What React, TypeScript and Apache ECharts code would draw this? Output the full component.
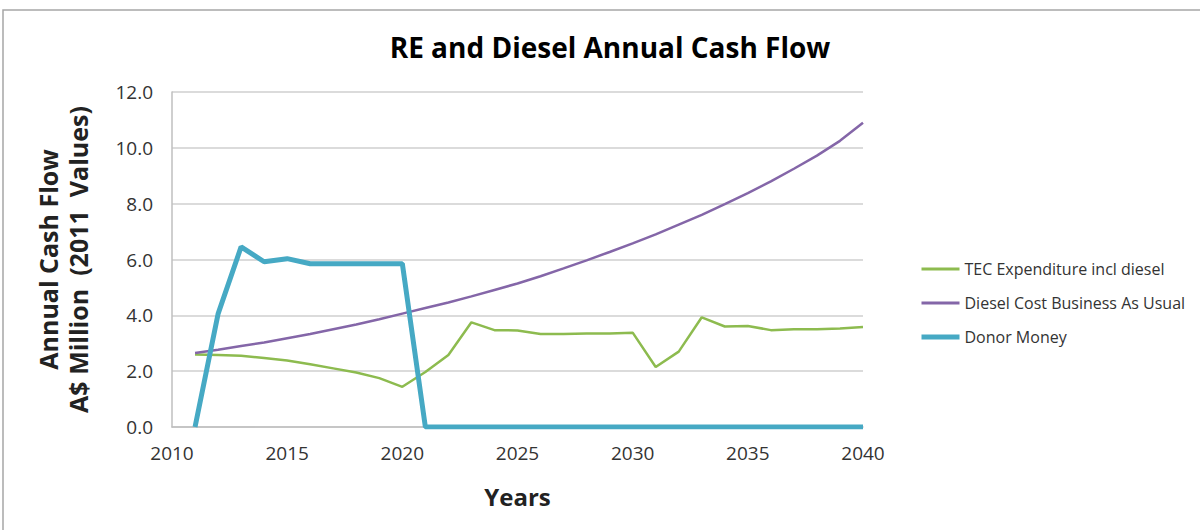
import React, { useEffect, useRef } from "react";
import * as echarts from "echarts";

const years = [2011,2012,2013,2014,2015,2016,2017,2018,2019,2020,2021,2022,2023,2024,2025,2026,2027,2028,2029,2030,2031,2032,2033,2034,2035,2036,2037,2038,2039,2040];
const tecExpenditure = [2.6,2.58,2.55,2.47,2.38,2.25,2.1,1.95,1.75,1.44,1.97,2.58,3.75,3.47,3.46,3.33,3.33,3.35,3.35,3.38,2.15,2.7,3.93,3.6,3.62,3.47,3.5,3.5,3.53,3.58];
const dieselBAU = [2.65,2.77,2.9,3.03,3.18,3.33,3.5,3.67,3.86,4.06,4.26,4.46,4.68,4.91,5.14,5.4,5.68,5.97,6.27,6.58,6.9,7.25,7.6,7.98,8.38,8.8,9.25,9.72,10.25,10.9];
const donorMoney = [0,4.05,6.45,5.92,6.03,5.85,5.85,5.85,5.85,5.85,0,0,0,0,0,0,0,0,0,0,0,0,0,0,0,0,0,0,0,0];
const seriesNames = ["TEC Expenditure incl diesel", "Diesel Cost Business As Usual", "Donor Money"];
const seriesColors = ["#8dbb4f", "#8466a8", "#46a9c4"];
const seriesWidths = [2.5, 2.5, 5];

const pair = (vals: number[]) => years.map((y, i) => [y, vals[i]]);

export default function App() {
  const ref = useRef<HTMLDivElement>(null);
  useEffect(() => {
    const chart = echarts.init(ref.current!, null, { renderer: "svg" });
    const font = "'Open Sans', 'Liberation Sans', sans-serif";
    const values = [tecExpenditure, dieselBAU, donorMoney];
    chart.setOption({
      animation: false,
      backgroundColor: "#fff",
      textStyle: { fontFamily: font },
      title: {
        text: "RE and Diesel Annual Cash Flow",
        left: 605,
        top: 28,
        textAlign: "center",
        textStyle: { fontFamily: font, fontWeight: "bold", fontSize: 28, color: "#000" },
      },
      graphic: [
        { type: "rect", shape: { x: 3, y: 10, width: 1205, height: 530 }, style: { fill: "none", stroke: "#a6a6a6", lineWidth: 1.5 }, silent: true },
      ],
      grid: { left: 172, right: 337, top: 92, bottom: 103 },
      legend: {
        orient: "vertical",
        left: 914,
        top: 256,
        itemGap: 18,
        itemWidth: 38,
        itemHeight: 16,
        itemStyle: { opacity: 0 },
        textStyle: { fontSize: 16, color: "#333", fontFamily: font },
        data: seriesNames.map((n, i) => ({ name: n, lineStyle: { width: i === 2 ? 5 : 3, color: seriesColors[i] } })),
      },
      xAxis: {
        type: "value",
        min: 2010,
        max: 2040,
        interval: 5,
        name: "Years",
        nameLocation: "middle",
        nameGap: 57,
        nameTextStyle: { fontSize: 24, fontWeight: "bold", color: "#222", fontFamily: font },
        axisLine: { show: true, lineStyle: { color: "#bfbfbf", width: 1.5 } },
        axisTick: { show: false },
        splitLine: { show: false },
        axisLabel: { fontSize: 19, color: "#333", margin: 16, formatter: (v: number) => String(v) },
      },
      yAxis: {
        type: "value",
        min: 0,
        max: 12,
        interval: 2,
        name: "Annual Cash Flow\nA$ Million  (2011  Values)",
        nameLocation: "middle",
        nameGap: 79,
        nameRotate: 90,
        nameTextStyle: { fontSize: 25, fontWeight: "bold", color: "#222", lineHeight: 30, fontFamily: font },
        axisLine: { show: true, lineStyle: { color: "#bfbfbf", width: 1.5 } },
        axisTick: { show: false },
        splitLine: { show: true, lineStyle: { color: "#cfcfcf", width: 1.5 } },
        axisLabel: { fontSize: 19, color: "#333", margin: 19, formatter: (v: number) => v.toFixed(1) },
      },
      series: seriesNames.map((n, i) => ({
        name: n,
        type: "line",
        data: pair(values[i]),
        showSymbol: false,
        symbol: "none",
        lineStyle: { color: seriesColors[i], width: seriesWidths[i] },
        itemStyle: { color: seriesColors[i] },
      })),
    });
    return () => chart.dispose();
  }, []);
  return <div ref={ref} style={{ position: "fixed", left: 0, top: 0, width: 1200, height: 530 }} />;
}
